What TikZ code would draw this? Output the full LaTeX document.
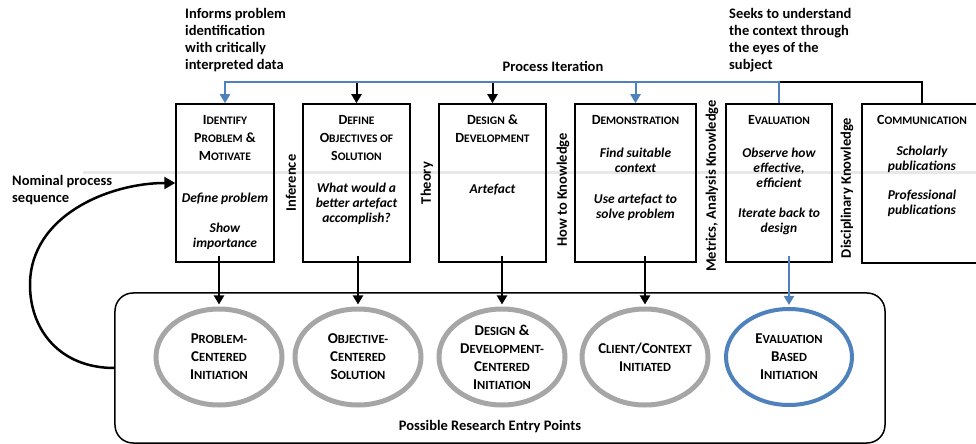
\documentclass[tikz,border=0pt]{standalone}
\usepackage{fontspec}
\setmainfont{Carlito}
\usetikzlibrary{arrows.meta,shapes.geometric}
\definecolor{pblue}{HTML}{4F81BD}
\definecolor{egray}{HTML}{A6A6A6}
\newcommand\sk[1]{{\fontsize{11.5bp}{18bp}\selectfont #1}}
\newcommand\esk[1]{{\fontsize{12.5bp}{18bp}\selectfont #1}}
\tikzset{
  stagebox/.style={draw,line width=1.5bp,minimum height=158bp,inner sep=0pt},
  ttl/.style={anchor=north,inner sep=0pt,align=center,font=\bfseries\fontsize{14bp}{18bp}\selectfont},
  bodytxt/.style={anchor=north,inner sep=0pt,align=center,font=\bfseries\itshape\fontsize{13.5bp}{15bp}\selectfont},
  vlab/.style={rotate=90,inner sep=0pt,font=\bfseries\fontsize{14.5bp}{16bp}\selectfont},
  entry/.style={ellipse,draw=egray,line width=5bp,minimum width=126bp,minimum height=96bp,inner sep=0pt},
  entryblue/.style={entry,draw=pblue,line width=4bp},
  etxt/.style={inner sep=0pt,align=center,font=\bfseries\fontsize{15bp}{18bp}\selectfont},
  note/.style={anchor=north west,inner sep=0pt,align=left,font=\bfseries\fontsize{14.5bp}{17bp}\selectfont},
  blk/.style={line width=2bp,draw=black},
  blu/.style={line width=2bp,draw=pblue},
  tip/.style={-{Triangle[length=9bp,width=10bp]}}
}
\begin{document}
\begin{tikzpicture}[x=1bp,y=-1bp]
\useasboundingbox (0,0) rectangle (976,444);
\clip (0,0) rectangle (976,444);
% faint horizontal artefact line
\draw[line width=3bp,gray!18] (83,173) -- (976,173);
% stage boxes
\node[stagebox,minimum width=98bp] (b1) at (225,183) {};
\node[stagebox,minimum width=107bp] (b2) at (356.5,183) {};
\node[stagebox,minimum width=107bp] (b3) at (492.5,183) {};
\node[stagebox,minimum width=121bp] (b4) at (635.5,183) {};
\node[stagebox,minimum width=106bp] (b5) at (779,183) {};
\node[stagebox,minimum width=120bp,minimum height=159bp] (b6) at (922,183.5) {};
% titles
\node[ttl] (t1) at (225,115) {I\sk{DENTIFY}\\P\sk{ROBLEM} \&\\M\sk{OTIVATE}};
\node[ttl] (t2) at (356.5,115) {D\sk{EFINE}\\O\sk{BJECTIVES OF}\\S\sk{OLUTION}};
\node[ttl] (t3) at (492.5,115) {D\sk{ESIGN} \&\\D\sk{EVELOPMENT}};
\node[ttl] (t4) at (635.5,115) {D\sk{EMONSTRATION}};
\node[ttl] (t5) at (779,115) {E\sk{VALUATION}};
\node[ttl] (t6) at (922,115) {C\sk{OMMUNICATION}};
% body texts
\node[bodytxt] (d1) at (225,193) {Define problem\\[15bp]Show\\importance};
\node[bodytxt] (d2) at (356.5,183) {What would a\\better artefact\\accomplish?};
\node[bodytxt] (d3) at (492.5,184) {Artefact};
\node[bodytxt] (d4) at (635.5,148) {Find suitable\\context\\[16bp]Use artefact to\\solve problem};
\node[bodytxt] (d5) at (779,148) {Observe how\\effective,\\efficient\\[15bp]Iterate back to\\design};
\node[bodytxt] (d6) at (922,146) {Scholarly\\publications\\[14bp]Professional\\publications};
% vertical labels
\node[vlab] (v1) at (291,183) {Inference};
\node[vlab] (v2) at (427,183) {Theory};
\node[vlab] (v3) at (563,190) {How to Knowledge};
\node[vlab] (v4) at (712,186) {Metrics, Analysis Knowledge};
\node[vlab] (v5) at (847,188) {Disciplinary Knowledge};
% entry container
\node[draw,line width=1.5bp,rounded corners=18bp,minimum width=770bp,minimum height=150bp] (rect) at (500,368) {};
\node[inner sep=0pt,font=\bfseries\fontsize{14.5bp}{17bp}\selectfont] (pep) at (490,427) {Possible Research Entry Points};
% entry ellipses
\node[entry] (e1) at (219,357) {};
\node[entry] (e2) at (358,357) {};
\node[entry] (e3) at (502,357) {};
\node[entry] (e4) at (645,357) {};
\node[entryblue] (e5) at (789,357) {};
\node[etxt] (et1) at (e1) {P\esk{ROBLEM-}\\C\esk{ENTERED}\\I\esk{NITIATION}};
\node[etxt] (et2) at (e2) {O\esk{BJECTIVE-}\\C\esk{ENTERED}\\S\esk{OLUTION}};
\node[etxt] (et3) at (e3) {D\esk{ESIGN} \&\\D\esk{EVELOPMENT-}\\C\esk{ENTERED}\\I\esk{NITIATION}};
\node[etxt] (et4) at (e4) {C\esk{LIENT}/C\esk{ONTEXT}\\I\esk{NITIATED}};
\node[etxt] (et5) at (e5) {E\esk{VALUATION}\\B\esk{ASED}\\I\esk{NITIATION}};
% arrows box -> entry
\draw[blk,tip] ([yshift=7bp]b1.south -| e1.north) -- ([yshift=2bp]e1.north);
\draw[blk,tip] ([yshift=7bp]b2.south -| e2.north) -- ([yshift=2bp]e2.north);
\draw[blk,tip] ([yshift=7bp]b3.south -| e3.north) -- ([yshift=2bp]e3.north);
\draw[blk,tip] ([yshift=7bp]b4.south -| e4.north) -- ([yshift=2bp]e4.north);
\draw[blu,tip] ([yshift=7bp]b5.south -| e5.north) -- ([yshift=2bp]e5.north);
% process iteration
\coordinate (pi) at (553,82);
\node[inner sep=0pt,font=\bfseries\fontsize{14.5bp}{17bp}\selectfont] (pit) at (553,66) {Process Iteration};
\draw[blk] (b6.north) |- (b2.north |- pi);
\draw[blk,tip] (b2.north |- pi) -- (b2.north);
\draw[blk,tip] (b3.north |- pi) -- (b3.north);
\draw[blu,tip] (b5.north) |- (b1.north |- pi) -- (b1.north);
\draw[blu,tip] (b4.north |- pi) -- (b4.north);
% notes
\node[note] (n1) at (185,8) {Informs problem\\identification\\with critically\\interpreted data};
\node[note] (n2) at (729,8) {Seeks to understand\\the context through\\the eyes of the\\subject};
\node[note] (n3) at (12,175) {Nominal process\\sequence};
% nominal process sequence arrow
\draw[line width=2.5bp,-{Triangle[length=11bp,width=12bp]}] (rect.west) .. controls (60,368) and (30,330) .. (30,285) .. controls (30,215) and (110,183) .. (b1.west);
\end{tikzpicture}
\end{document}
